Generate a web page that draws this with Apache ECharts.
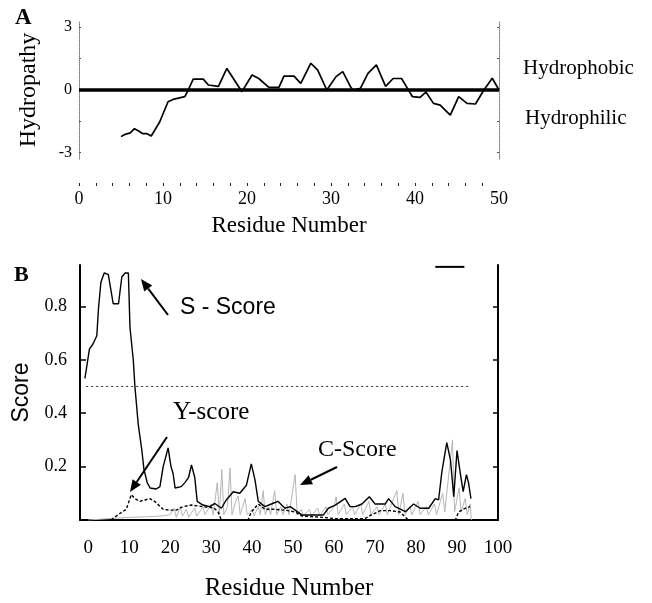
<!DOCTYPE html>
<html>
<head>
<meta charset="utf-8">
<script src="https://cdn.jsdelivr.net/npm/echarts@6/dist/echarts.min.js"></script>
<style>html,body{margin:0;padding:0;background:#fff}#c{width:652px;height:603px}</style>
</head>
<body>
<div id="c"></div>
<script>
// ---------- Panel A: hydropathy ----------
const hydroResidue = [5.0,5.5,6.1,6.6,7.1,7.6,8.1,8.6,9.6,10.6,11.2,12.6,13.0,13.6,14.8,15.4,16.6,17.6,19.4,20.6,21.4,22.6,23.8,24.4,25.6,26.4,27.6,28.4,29.5,30.6,31.4,32.3,32.6,33.5,34.4,35.4,36.5,37.4,38.4,39.1,39.7,40.6,41.3,42.2,43.0,44.2,45.2,46.2,47.2,48.2,49.2,50.0];
const hydroValue = [-2.23,-2.12,-2.05,-1.85,-1.96,-2.09,-2.09,-2.2,-1.53,-0.56,-0.45,-0.32,0,0.52,0.52,0.24,0.17,1.03,-0.08,0.72,0.55,0.13,0.13,0.66,0.66,0.32,1.28,0.96,0,0.64,0.88,0.17,0,0.08,0.8,1.2,0.17,0.55,0.55,0.08,-0.32,-0.35,-0.1,-0.64,-0.72,-1.2,-0.32,-0.64,-0.67,0,0.56,0];
const hydroZeroLine = [[0,0],[50,0]];
const hydroYTicks = [3,0,-3];
const hydroXTicks = [0,10,20,30,40,50];
const hydroXMinorTicks = [0,2,4,6,8,10,12,14,16,18,20,22,24,26,28,30,32,34,36,38,40,42,44,46,48];

// ---------- Panel B: SignalP scores ----------
const sScore = [[-0.8,0.53],[-0.2,0.59],[0.3,0.64],[1.2,0.66],[2.1,0.69],[2.5,0.79],[3.1,0.89],[3.9,0.925],[4.9,0.92],[6.1,0.81],[7.4,0.81],[8.2,0.91],[9.0,0.925],[9.8,0.925],[10.2,0.72],[11.0,0.6],[11.4,0.5],[12.2,0.36],[13.1,0.26],[13.6,0.19],[14.4,0.14],[15.1,0.12],[16.6,0.116],[17.5,0.125],[18.3,0.2],[19.5,0.27],[20.2,0.2],[20.7,0.175],[21.2,0.12],[22.7,0.125],[23.6,0.14],[24.5,0.16],[25.2,0.206],[26.0,0.16],[26.6,0.07],[28.0,0.056],[29.7,0.05],[30.9,0.062],[32.5,0.044],[33.7,0.075],[35.4,0.106],[37.0,0.1],[38.6,0.13],[39.8,0.21],[40.7,0.15],[41.5,0.07],[43.1,0.05],[44.7,0.06],[46.3,0.07],[48.0,0.044],[49.3,0.05],[50.5,0.037],[52.1,0.019],[57.4,0.019],[58.6,0.044],[60.3,0.056],[62.7,0.081],[63.9,0.05],[65.2,0.05],[66.8,0.06],[68.6,0.087],[70.0,0.06],[72.5,0.06],[73.3,0.08],[74.9,0.05],[77.4,0.031],[79.4,0.06],[81.0,0.044],[83.1,0.044],[84.7,0.08],[85.5,0.075],[86.3,0.18],[87.5,0.29],[88.4,0.225],[89.2,0.087],[90.0,0.26],[90.8,0.175],[91.5,0.106],[92.3,0.17],[92.8,0.14],[93.4,0.08]];
const yScore = [[5.6,0],[7.3,0.02],[9.3,0.04],[10.5,0.095],[11.4,0.08],[12.6,0.07],[13.8,0.075],[15.0,0.08],[16.2,0.07],[18.3,0.04],[19.9,0.037],[21.5,0.037],[23.1,0.05],[25.2,0.056],[28.0,0.05],[30.7,0.045],[31.7,0.03],[32.5,0],[39.0,0],[39.8,0.03],[41.5,0.06],[43.1,0.04],[45.5,0.04],[48.0,0.037],[50.5,0.03],[52.1,0.015],[57.3,0.01],[60.3,0.005],[67.5,0.005],[69.2,0.02],[71.3,0.035],[73.7,0.035],[76.1,0.03],[78.1,0],[89.6,0],[90.4,0.03],[92.0,0.044],[93.2,0.05]];
const cScore = [[0,0],[5,0.005],[10,0.01],[14,0.012],[18,0.015],[20,0.02],[21,0.045],[21.5,0.01],[22.5,0.05],[23,0.015],[24,0.04],[24.5,0.01],[26,0.045],[26.5,0.015],[28,0.05],[28.5,0.02],[30,0.06],[30.5,0.02],[31.5,0.14],[32,0.02],[32.6,0.19],[33.1,0.02],[34,0.05],[34.6,0.195],[35.1,0.02],[36,0.07],[36.6,0.09],[37.1,0.02],[38.3,0.08],[38.8,0.02],[40,0.04],[40.5,0.015],[41.5,0.05],[42,0.02],[42.7,0.11],[43.2,0.02],[44,0.05],[44.5,0.02],[45.5,0.11],[46,0.02],[47,0.05],[47.5,0.02],[48.5,0.06],[49,0.02],[50.5,0.17],[51,0.02],[52,0.04],[52.5,0.015],[54,0.04],[54.5,0.015],[56,0.045],[56.5,0.015],[58,0.05],[58.5,0.02],[60,0.05],[60.5,0.087],[61,0.02],[62.5,0.06],[63,0.02],[64.5,0.05],[65,0.02],[66.5,0.06],[67,0.02],[68.5,0.07],[69,0.02],[70.5,0.05],[71,0.02],[72.5,0.06],[73,0.02],[75.3,0.11],[75.8,0.02],[76.8,0.1],[77.3,0.02],[78.5,0.05],[79,0.02],[80.5,0.07],[81,0.02],[82.5,0.05],[83,0.02],[84.5,0.06],[85,0.02],[86.5,0.1],[87,0.03],[88.9,0.3],[89.4,0.03],[90.5,0.12],[91,0.03],[92,0.08],[92.5,0.02],[93.2,0.06],[93.5,0]];
const cutoffLine = [[-0.5,0.5],[93.3,0.5]];
const topDash = [[84.7,0.948],[91.8,0.948]];
const scoreYTicks = [0.2,0.4,0.6,0.8];
const scoreXTicks = [0,10,20,30,40,50,60,70,80,90,100];

const SERIF = '"Liberation Serif", "Times New Roman", serif';
const SANS = '"Liberation Sans", Arial, sans-serif';

function arrow(x1,y1,x2,y2){
  const a = Math.atan2(y2-y1, x2-x1), L = 12, W = 5;
  const bx = x2 - L*Math.cos(a), by = y2 - L*Math.sin(a);
  const px = -Math.sin(a)*W, py = Math.cos(a)*W;
  return [
    {type:'line', shape:{x1:x1,y1:y1,x2:bx,y2:by}, style:{stroke:'#000', lineWidth:2}},
    {type:'polygon', shape:{points:[[x2,y2],[bx+px,by+py],[bx-px,by-py]]}, style:{fill:'#000'}}
  ];
}
function txt(text,x,y,font,align,rot){
  return {type:'text', x:x, y:y, rotation: rot||0,
    style:{text:text, font:font, fill:'#000', textAlign:align||'left', textVerticalAlign:'middle'}};
}

const chart = echarts.init(document.getElementById('c'), null, {renderer:'canvas'});
chart.setOption({
  animation:false,
  backgroundColor:'#fff',
  grid:[
    {left:79, right:153, top:21, height:138},
    {left:80, right:154, top:265, bottom:83}
  ],
  xAxis:[
    {gridIndex:0, type:'value', min:0, max:50, interval:2, offset:24,
     axisLine:{show:true, onZero:false, lineStyle:{color:'rgba(0,0,0,0)', width:1}}, splitLine:{show:false},
     axisTick:{show:true, length:3, customValues:hydroXMinorTicks, lineStyle:{color:'#222', width:1}},
     axisLabel:{customValues:hydroXTicks, margin:7, fontFamily:SERIF, fontSize:18, color:'#000'},
     name:'Residue Number', nameLocation:'middle', nameGap:31,
     nameTextStyle:{fontFamily:SERIF, fontSize:23, color:'#000'}},
    {gridIndex:1, type:'value', min:-2, max:100,
     axisLine:{show:true, onZero:false, lineStyle:{color:'#000', width:2}}, splitLine:{show:false},
     axisTick:{show:false},
     axisLabel:{customValues:scoreXTicks, margin:19, fontFamily:SERIF, fontSize:19, color:'#000'},
     name:'Residue Number', nameLocation:'middle', nameGap:56,
     nameTextStyle:{fontFamily:SERIF, fontSize:25, color:'#000'}}
  ],
  yAxis:[
    {gridIndex:0, type:'value', min:-3.3, max:3.3, position:'left',
     axisLine:{show:true, onZero:false, lineStyle:{color:'#777', width:1, type:'dotted'}}, splitLine:{show:false},
     axisTick:{show:true, inside:true, length:2, customValues:[3,1.5,0,-1.5,-3], lineStyle:{color:'#555'}},
     axisLabel:{customValues:hydroYTicks, margin:7, fontFamily:SERIF, fontSize:16, color:'#000'},
     name:'Hydropathy', nameLocation:'middle', nameGap:38, nameRotate:90,
     nameTextStyle:{fontFamily:SERIF, fontSize:24, color:'#000'}},
    {gridIndex:0, type:'value', min:-3.3, max:3.3, position:'right',
     axisLine:{show:true, onZero:false, lineStyle:{color:'#777', width:1, type:'dotted'}}, splitLine:{show:false},
     axisTick:{show:true, inside:true, length:2, customValues:[3,1.5,0,-1.5,-3], lineStyle:{color:'#555'}},
     axisLabel:{show:false}},
    {gridIndex:1, type:'value', min:0, max:0.955, position:'left',
     axisLine:{show:true, onZero:false, lineStyle:{color:'#000', width:2}}, splitLine:{show:false},
     axisTick:{show:true, inside:true, length:6, customValues:scoreYTicks, lineStyle:{color:'#000', width:1.5}},
     axisLabel:{customValues:scoreYTicks, margin:13, fontFamily:SERIF, fontSize:18, color:'#000',
       formatter:function(v){return v.toFixed(1);}},
     name:'Score', nameLocation:'middle', nameGap:40, nameRotate:90,
     nameTextStyle:{fontFamily:SANS, fontSize:23, color:'#000'}},
    {gridIndex:1, type:'value', min:0, max:0.955, position:'right',
     axisLine:{show:true, onZero:false, lineStyle:{color:'#000', width:2}}, splitLine:{show:false},
     axisTick:{show:true, inside:true, length:5, customValues:scoreYTicks, lineStyle:{color:'#000', width:1.5}},
     axisLabel:{show:false}}
  ],
  series:[
    {type:'line', xAxisIndex:0, yAxisIndex:0, data:hydroZeroLine, symbol:'none',
     lineStyle:{color:'#000', width:3.5}, silent:true},
    {type:'line', xAxisIndex:0, yAxisIndex:0, data:hydroResidue.map((r,i)=>[r,hydroValue[i]]),
     symbol:'none', lineStyle:{color:'#000', width:1.7}},
    {type:'line', xAxisIndex:1, yAxisIndex:2, data:cScore, symbol:'none',
     lineStyle:{color:'#b5b5b5', width:1}},
    {type:'line', xAxisIndex:1, yAxisIndex:2, data:cutoffLine, symbol:'none',
     lineStyle:{color:'#333', width:1, type:[2,3]}},
    {type:'line', xAxisIndex:1, yAxisIndex:2, data:yScore, symbol:'none',
     lineStyle:{color:'#000', width:1.4, type:[3,2]}},
    {type:'line', xAxisIndex:1, yAxisIndex:2, data:sScore, symbol:'none',
     lineStyle:{color:'#000', width:1.4}},
    {type:'line', xAxisIndex:1, yAxisIndex:2, data:topDash, symbol:'none',
     lineStyle:{color:'#000', width:2}}
  ],
  graphic:[
    txt('A', 15, 18, 'bold 23px '+SERIF),
    txt('Hydrophobic', 523, 68, '21px '+SERIF),
    txt('Hydrophilic', 525, 118, '21px '+SERIF),
    txt('B', 14, 275, 'bold 22px '+SERIF),
    txt('S - Score', 180, 308, '23px '+SANS),
    txt('Y-score', 173, 412, '25px '+SERIF),
    txt('C-Score', 318, 450, '24px '+SERIF)
  ].concat(arrow(168,315,141,279), arrow(167,437,130,492), arrow(337,467,300,485))
});
</script>
</body>
</html>
